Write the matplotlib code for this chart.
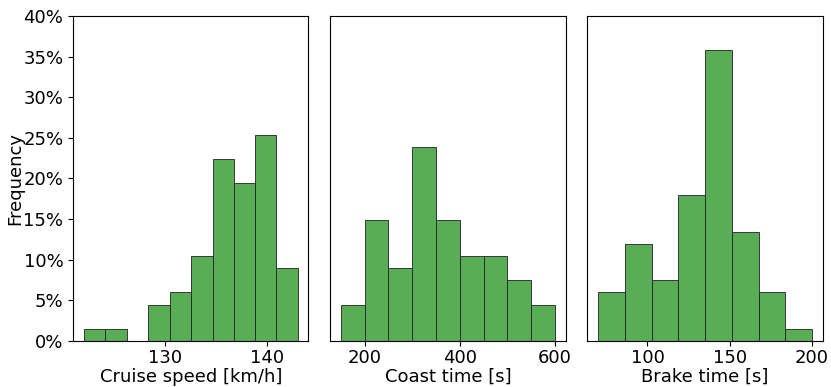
import numpy as np
import matplotlib.pyplot as plt
from matplotlib.ticker import PercentFormatter, MultipleLocator

# bin edges and counts (67 trips in total)
cruise_edges = [122.1, 124.2, 126.3, 128.4, 130.5, 132.6, 134.7, 136.8, 138.8, 140.9, 143.0]
cruise_counts = [1, 1, 0, 3, 4, 7, 15, 13, 17, 6]

coast_edges = [150, 200, 250, 300, 350, 400, 450, 500, 550, 600]
coast_counts = [3, 10, 6, 16, 10, 7, 7, 5, 3]

brake_edges = [70, 86.25, 102.5, 118.75, 135, 151.25, 167.5, 183.75, 200]
brake_counts = [4, 8, 5, 12, 24, 9, 4, 1]

labels = ['Cruise speed [km/h]', 'Coast time [s]', 'Brake time [s]']
xticks = [[130, 140], [200, 400, 600], [100, 150, 200]]

plt.rcParams['font.size'] = 13

fig, axes = plt.subplots(1, 3, figsize=(8.31, 3.87), dpi=100, sharey=True)
fig.subplots_adjust(left=0.088, right=0.99, top=0.959, bottom=0.119, wspace=0.093)

data = [(cruise_edges, cruise_counts), (coast_edges, coast_counts), (brake_edges, brake_counts)]
for i, (ax, (edges, counts)) in enumerate(zip(axes, data)):
    edges = np.array(edges)
    counts = np.array(counts, dtype=float)
    freq = counts / counts.sum()
    ax.bar(edges[:-1], freq, width=np.diff(edges), align='edge',
           color='#5aad57', edgecolor='#222222', linewidth=0.6)
    ax.set_xlabel(labels[i], labelpad=1)
    ax.set_xticks(xticks[i])
    ax.tick_params(axis='x', pad=2)
    if i > 0:
        ax.tick_params(left=False, labelleft=False)

axes[0].set_ylim(0, 0.4)
axes[0].yaxis.set_major_locator(MultipleLocator(0.05))
axes[0].yaxis.set_major_formatter(PercentFormatter(1.0, decimals=0))
axes[0].set_ylabel('Frequency', labelpad=-1)

plt.savefig('out.png')
